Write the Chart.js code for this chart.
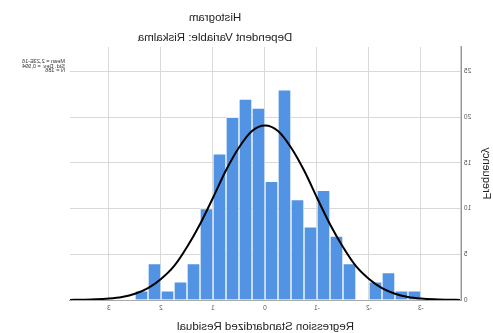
<!DOCTYPE html>
<html>
<head>
<meta charset="utf-8">
<script src="https://cdn.jsdelivr.net/npm/chart.js@4/dist/chart.umd.min.js"></script>
<style>
  html, body { margin: 0; padding: 0; background: #fff; }
  #histogram { display: block; transform: scaleX(-1); }
</style>
</head>
<body>
<canvas id="histogram" width="493" height="333"></canvas>
<script>
// histogram bins (0.25 wide) and counts
const binCenters = [-2.875, -2.625, -2.375, -2.125, -1.875, -1.625, -1.375, -1.125, -0.875, -0.625, -0.375,
  -0.125, 0.125, 0.375, 0.625, 0.875, 1.125, 1.375, 1.625, 1.875, 2.125, 2.375];
const counts = [1, 1, 3, 2, 0, 4, 7, 12, 8, 11, 23, 13, 21, 22, 20, 16, 10, 4, 2, 1, 4, 1];

// normal curve
const curveX = [-3.75, -3.5, -3.25, -3, -2.75, -2.5, -2.25, -2, -1.75, -1.5, -1.25, -1, -0.75, -0.5, -0.25, 0,
  0.25, 0.5, 0.75, 1, 1.25, 1.5, 1.75, 2, 2.25, 2.5, 2.75, 3, 3.25, 3.5, 3.75];
const curveY = [0.01, 0.03, 0.07, 0.16, 0.34, 0.69, 1.3, 2.3, 3.7, 5.8, 8.3, 11.2, 14.2, 16.7, 18.5, 19.1,
  18.5, 16.7, 14.2, 11.2, 8.3, 5.8, 3.7, 2.3, 1.3, 0.69, 0.34, 0.16, 0.07, 0.03, 0.01];

const xTicks = [-3, -2, -1, 0, 1, 2, 3];
const yTicks = [0, 5, 10, 15, 20, 25];
const statLines = ["Mean = 2,23E-16", "Std. Dev. = 0,994", "N = 186"];

const FONT = "'Liberation Sans', Arial, sans-serif";

// titles and the stats box sit outside the plot, drawn by hand
const textPlugin = {
  id: "spssText",
  afterDraw(chart) {
    const ctx = chart.ctx;
    ctx.save();
    ctx.fillStyle = "#222";
    ctx.textAlign = "center";
    ctx.textBaseline = "middle";
    ctx.font = "11.5px " + FONT;
    ctx.fillText("Histogram", 278, 17.5);
    ctx.fillText("Dependent Variable: Riskalma", 278, 38);
    ctx.textAlign = "left";
    ctx.font = "5.6px " + FONT;
    ctx.fillStyle = "#333";
    statLines.forEach((t, i) => ctx.fillText(t, 428, 61.5 + i * 4.6));
    ctx.restore();
  }
};

new Chart(document.getElementById("histogram"), {
  type: "bar",
  data: {
    datasets: [
      {
        type: "line",
        order: 0,
        data: curveX.map((x, i) => ({ x, y: curveY[i] })),
        borderColor: "#000",
        borderWidth: 2,
        pointRadius: 0,
        cubicInterpolationMode: "monotone",
        fill: false
      },
      {
        type: "bar",
        order: 1,
        data: binCenters.map((x, i) => ({ x, y: counts[i] })),
        backgroundColor: "#5393e3",
        borderColor: "rgba(255,255,255,0.55)",
        borderWidth: 1,
        barPercentage: 1,
        categoryPercentage: 1
      }
    ]
  },
  options: {
    responsive: false,
    animation: false,
    devicePixelRatio: 1,
    layout: { padding: { top: 47, right: 70, left: 0, bottom: 0 } },
    plugins: { legend: { display: false }, tooltip: { enabled: false } },
    scales: {
      x: {
        type: "linear",
        min: -3.77,
        max: 3.75,
        offset: false,
        afterBuildTicks: (s) => { s.ticks = xTicks.map((v) => ({ value: v })); },
        afterFit: (s) => { s.height = 33; },
        grid: { color: "#d9d9d9", drawTicks: false, offset: false },
        border: { color: "#aaa", width: 1 },
        ticks: { font: { family: FONT, size: 6.5 }, color: "#555", padding: 4, maxRotation: 0 },
        title: {
          display: true,
          text: "Regression Standardized Residual",
          font: { family: FONT, size: 11.5 },
          color: "#222",
          padding: { top: 0, bottom: -1 }
        }
      },
      y: {
        min: 0,
        max: 27.7,
        afterBuildTicks: (s) => { s.ticks = yTicks.map((v) => ({ value: v })); },
        afterFit: (s) => { s.width = 32; },
        grid: { color: "#d9d9d9", drawTicks: false },
        border: { color: "#999", width: 1.5 },
        ticks: { font: { family: FONT, size: 6.5 }, color: "#555", padding: 3 },
        title: {
          display: true,
          text: "Frequency",
          font: { family: FONT, size: 11 },
          color: "#222",
          padding: 0
        }
      }
    }
  },
  plugins: [textPlugin]
});
</script>
</body>
</html>
